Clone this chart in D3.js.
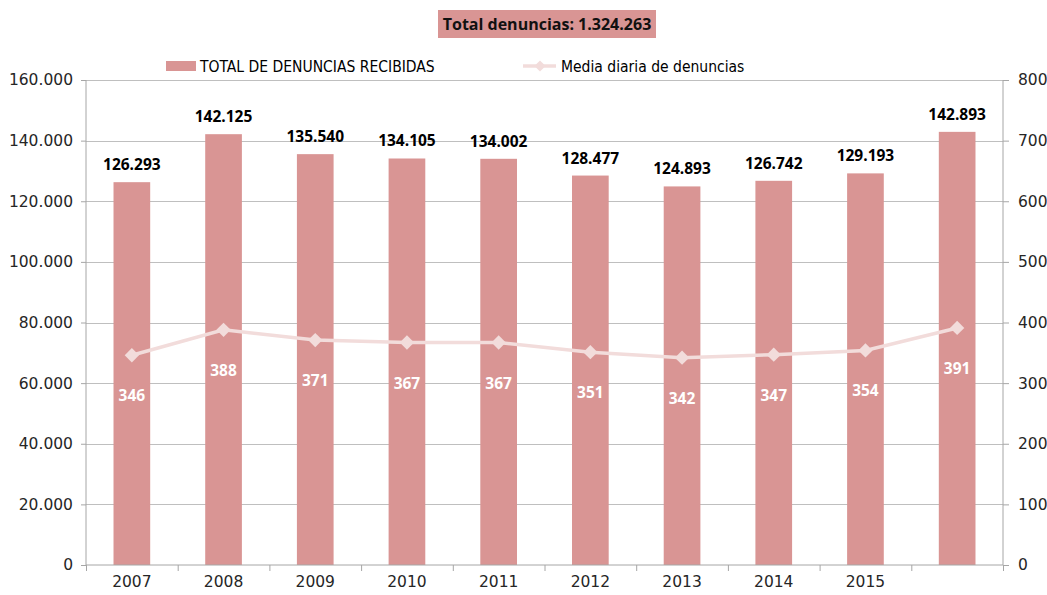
<!DOCTYPE html>
<html>
<head>
<meta charset="utf-8">
<script src="https://cdn.jsdelivr.net/npm/d3@7"></script>
<style>
body{margin:0;background:#fff}
svg{display:block}
</style>
</head>
<body>
<div id="chart"></div>
<script>
// data
var years=["2007","2008","2009","2010","2011","2012","2013","2014","2015",""]
var totals=[126293,142125,135540,134105,134002,128477,124893,126742,129193,142893]
var dailyAvg=[346,388,371,367,367,351,342,347,354,391]
var leftTicks=[0,20000,40000,60000,80000,100000,120000,140000,160000]
var rightTicks=[0,100,200,300,400,500,600,700,800]
var titleText="Total denuncias: 1.324.263"
var barName="TOTAL DE DENUNCIAS RECIBIDAS"
var lineName="Media diaria de denuncias"

var svgWidth=1047
var svgHeight=595
var margin={top:80, bottom:30, left:86, right:44}
var chartWidth=svgWidth-margin.left-margin.right
var chartHeight=svgHeight-margin.top-margin.bottom

var barColor="#d99594"
var lineColor="#f2dcdb"
var gridColor="#bfbfbf"
var axisFont="'DejaVu Sans', sans-serif"
var labelFont="'Open Sans', sans-serif"

var fmt=d3.formatLocale({decimal:",", thousands:".", grouping:[3], currency:["","€"]}).format(",")

var svg=d3.select("#chart").append("svg")
    .attr("width", svgWidth)
    .attr("height", svgHeight)

var g=svg.append("g").attr("transform", `translate(${margin.left}, ${margin.top})`)

var x=d3.scaleBand().domain(d3.range(years.length)).range([0, chartWidth])
var yL=d3.scaleLinear().domain([0,160000]).range([chartHeight,0])
var yR=d3.scaleLinear().domain([0,800]).range([chartHeight,0])

// gridlines
g.append("g").selectAll("line").data(leftTicks.slice(1)).enter().append("line")
    .attr("x1",0).attr("x2",chartWidth)
    .attr("y1",d=>Math.round(yL(d))+0.5).attr("y2",d=>Math.round(yL(d))+0.5)
    .attr("stroke",gridColor).attr("stroke-width",1)

// bars
var bw=x.bandwidth()*0.4
g.selectAll("rect.bar").data(totals).enter().append("rect")
    .attr("class","bar")
    .attr("x",(d,i)=>x(i)+x.bandwidth()/2-bw/2)
    .attr("width",bw)
    .attr("y",d=>yL(d))
    .attr("height",d=>chartHeight-yL(d))
    .attr("fill",barColor)

// axes
var leftAxis=d3.axisLeft(yL).tickValues(leftTicks).tickSize(5).tickFormat(d=>fmt(d))
var rightAxis=d3.axisRight(yR).tickValues(rightTicks).tickSize(6)
var bottomAxis=d3.axisBottom(x).tickSize(0).tickFormat(i=>years[i])

var la=g.append("g").call(leftAxis)
var ra=g.append("g").attr("transform",`translate(${chartWidth},0)`).call(rightAxis)
var ba=g.append("g").attr("transform",`translate(0,${chartHeight})`).call(bottomAxis)

;[la,ra,ba].forEach(a=>{
    a.select(".domain").attr("stroke","#a6a6a6")
    a.selectAll(".tick line").attr("stroke","#a6a6a6")
    a.selectAll("text").attr("font-family",axisFont).attr("font-size",15.5).attr("fill","#262626")
})
la.select(".domain").attr("d",`M0,0V${chartHeight}`)
ra.select(".domain").attr("d",`M0,0V${chartHeight}`)
la.selectAll("text").attr("x",-13)
ra.selectAll("text").attr("x",15)
ba.select(".domain").attr("d",`M0,0H${chartWidth}`)
ba.selectAll("text").attr("y",11)

// category separator ticks under axis
g.append("g").selectAll("line").data(d3.range(years.length+1)).enter().append("line")
    .attr("x1",i=>i*x.step()+0.5).attr("x2",i=>i*x.step()+0.5)
    .attr("y1",chartHeight).attr("y2",chartHeight+6)
    .attr("stroke","#a6a6a6")

// bar labels
g.selectAll("text.blab").data(totals).enter().append("text")
    .attr("class","blab")
    .attr("x",(d,i)=>x(i)+x.bandwidth()/2)
    .attr("y",d=>yL(d)-12)
    .attr("text-anchor","middle")
    .attr("font-family",labelFont).attr("font-weight","bold").attr("font-size",15.5)
    .attr("fill","#000")
    .text(d=>fmt(d))

// line
var line=d3.line().x((d,i)=>x(i)+x.bandwidth()/2).y(d=>yR(d))
g.append("path").datum(dailyAvg)
    .attr("d",line).attr("fill","none")
    .attr("stroke",lineColor).attr("stroke-width",3.5)

var diamond=d3.symbol().type(d3.symbolDiamond2).size(130)
g.selectAll("path.mk").data(dailyAvg).enter().append("path")
    .attr("class","mk")
    .attr("d",diamond)
    .attr("transform",(d,i)=>`translate(${x(i)+x.bandwidth()/2},${yR(d)})`)
    .attr("fill",lineColor)

g.selectAll("text.llab").data(dailyAvg).enter().append("text")
    .attr("class","llab")
    .attr("x",(d,i)=>x(i)+x.bandwidth()/2)
    .attr("y",d=>yR(d)+46)
    .attr("text-anchor","middle")
    .attr("font-family",labelFont).attr("font-weight","bold").attr("font-size",15.5)
    .attr("fill","#fff")
    .text(d=>d)

// title box
var title=svg.append("g")
title.append("rect")
    .attr("x",438).attr("y",10).attr("width",218).attr("height",28)
    .attr("fill",barColor)
title.append("text")
    .attr("x",547).attr("y",30)
    .attr("text-anchor","middle")
    .attr("font-family",labelFont).attr("font-weight","bold").attr("font-size",16)
    .attr("fill","#111")
    .text(titleText)

// legend
var lg=svg.append("g").attr("font-family","'DejaVu Sans Condensed', 'DejaVu Sans', sans-serif").attr("font-size",15.5).attr("fill","#000")
lg.append("rect").attr("x",166).attr("y",61).attr("width",30).attr("height",10).attr("fill",barColor)
lg.append("text").attr("x",200).attr("y",72).text(barName)
lg.append("line").attr("x1",523).attr("x2",556).attr("y1",66).attr("y2",66).attr("stroke",lineColor).attr("stroke-width",3.5)
lg.append("path").attr("d",d3.symbol().type(d3.symbolDiamond2).size(80)).attr("transform","translate(540,66)").attr("fill",lineColor)
lg.append("text").attr("x",561).attr("y",72).text(lineName)
</script>
</body>
</html>
